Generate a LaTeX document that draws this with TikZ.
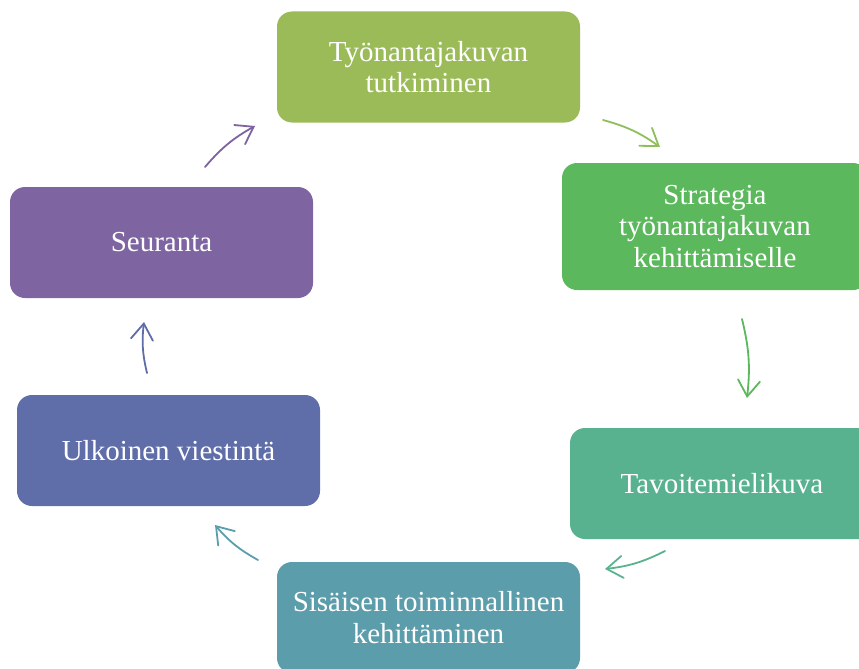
\documentclass[tikz,border=0pt]{standalone}
\usepackage{fontspec}
\setmainfont{Liberation Serif}
\usetikzlibrary{arrows.meta}
\definecolor{c1}{HTML}{9BBB59}
\definecolor{c2}{HTML}{5CB85C}
\definecolor{c3}{HTML}{59B28F}
\definecolor{c4}{HTML}{5B9DAA}
\definecolor{c5}{HTML}{5F6DA8}
\definecolor{c6}{HTML}{7F64A2}
\definecolor{a1}{HTML}{8FBE5A}
\definecolor{a2}{HTML}{5BB85E}
\definecolor{a3}{HTML}{59B38D}
\definecolor{a4}{HTML}{5A9EAB}
\definecolor{a5}{HTML}{5E6DA8}
\definecolor{a6}{HTML}{7E62A2}
\begin{document}
\begin{tikzpicture}[x=1pt,y=-1pt,
  box/.style={rounded corners=15pt, minimum width=303pt, minimum height=111pt,
    text=white, align=center, font=\fontsize{29}{31.5}\selectfont, inner sep=0pt},
  arr/.style={line width=1.8pt, line cap=round, -{Straight Barb[length=16pt,width=22pt,line cap=round]}, bend left=10}]
\useasboundingbox (0,0) rectangle (859,669);
\node[box, fill=c1] (n1) at (428.5,67) {Työnantajakuvan\\tutkiminen};
\node[box, fill=c2, minimum width=306pt, minimum height=127pt] (n2) at (715,226.5) {Strategia\\työnantajakuvan\\kehittämiselle};
\node[box, fill=c3, minimum width=304pt] (n3) at (722,483.5) {Tavoitemielikuva};
\node[box, fill=c4] (n4) at (428.5,617.5) {Sisäisen toiminnallinen\\kehittäminen};
\node[box, fill=c5] (n5) at (168.5,450.5) {Ulkoinen viestintä};
\node[box, fill=c6] (n6) at (161.5,242.5) {Seuranta};
\coordinate (s1) at (603,120); \coordinate (e1) at (660,147);
\coordinate (s2) at (742,319); \coordinate (e2) at (747,398);
\coordinate (s3) at (665,551); \coordinate (e3) at (605,569);
\coordinate (s4) at (258,560); \coordinate (e4) at (215,525);
\coordinate (s5) at (147,373); \coordinate (e5) at (144,322);
\coordinate (s6) at (205,167); \coordinate (e6) at (255,126);
\draw[arr, a1] (s1) to (e1);
\draw[arr, a2] (s2) to (e2);
\draw[arr, a3] (s3) to (e3);
\draw[arr, a4] (s4) to (e4);
\draw[arr, a5] (s5) to (e5);
\draw[arr, a6] (s6) to (e6);
\end{tikzpicture}
\end{document}
